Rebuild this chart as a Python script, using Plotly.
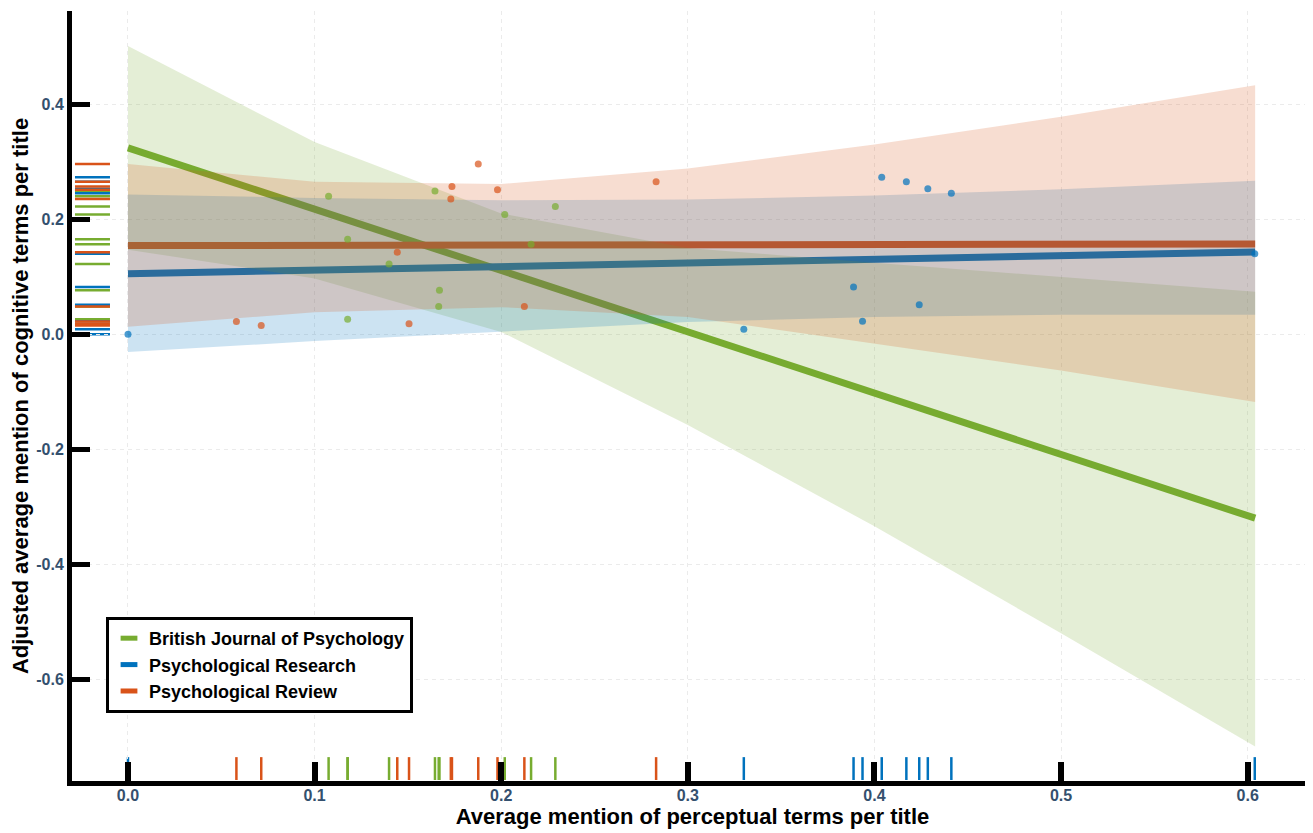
import plotly.graph_objects as go

# ---- data ----
series_names = ["British Journal of Psychology", "Psychological Research", "Psychological Review"]
colors = ["#77AC30", "#0072BD", "#D95319"]
band_rgba = ["rgba(119,172,48,0.2)", "rgba(0,114,189,0.2)", "rgba(217,83,25,0.2)"]

bjp_x = [0.1075, 0.1177, 0.1177, 0.1399, 0.1645, 0.1669, 0.1665, 0.2019, 0.2160, 0.2290]
bjp_y = [0.240, 0.165, 0.026, 0.122, 0.249, 0.0765, 0.048, 0.208, 0.1565, 0.222]

pres_x = [0.0, 0.330, 0.3888, 0.3936, 0.4039, 0.4171, 0.4240, 0.4286, 0.4412, 0.6038]
pres_y = [0.0, 0.0087, 0.082, 0.0226, 0.273, 0.265, 0.051, 0.253, 0.245, 0.140]

prev_x = [0.0581, 0.0714, 0.1443, 0.1506, 0.1736, 0.1730, 0.1877, 0.1980, 0.2124, 0.2830]
prev_y = [0.022, 0.015, 0.1426, 0.018, 0.257, 0.235, 0.296, 0.251, 0.048, 0.265]

fit_x = [0.0, 0.604]
bjp_fit = [0.324, -0.320]
pres_fit = [0.105, 0.143]
prev_fit = [0.154, 0.157]

band_x = [0.0, 0.1, 0.2, 0.3, 0.4, 0.5, 0.604]
bjp_upper = [0.501, 0.334, 0.210, 0.150, 0.124, 0.099, 0.074]
bjp_lower = [0.147, 0.097, 0.004, -0.158, -0.334, -0.520, -0.717]
pres_upper = [0.243, 0.237, 0.233, 0.234, 0.241, 0.252, 0.267]
pres_lower = [-0.031, -0.012, 0.005, 0.021, 0.030, 0.034, 0.034]
prev_upper = [0.296, 0.265, 0.261, 0.288, 0.330, 0.378, 0.433]
prev_lower = [0.013, 0.038, 0.047, 0.030, -0.017, -0.063, -0.118]

x_ticks = [0.0, 0.1, 0.2, 0.3, 0.4, 0.5, 0.6]
y_ticks = [-0.6, -0.4, -0.2, 0.0, 0.2, 0.4]

xs = [bjp_x, pres_x, prev_x]
ys = [bjp_y, pres_y, prev_y]
fits = [bjp_fit, pres_fit, prev_fit]
uppers = [bjp_upper, pres_upper, prev_upper]
lowers = [bjp_lower, pres_lower, prev_lower]

FONT = "Liberation Sans, Arial, sans-serif"
fig = go.Figure()

# fitted lines (under the bands)
for i in range(3):
    fig.add_trace(go.Scatter(x=fit_x, y=fits[i], mode="lines",
                             line=dict(color=colors[i], width=7),
                             showlegend=False, hoverinfo="skip"))
# confidence bands
for i in range(3):
    fig.add_trace(go.Scatter(x=band_x + band_x[::-1], y=uppers[i] + lowers[i][::-1],
                             mode="lines", fill="toself", fillcolor=band_rgba[i],
                             line=dict(width=0), showlegend=False, hoverinfo="skip"))
# points
for i in range(3):
    fig.add_trace(go.Scatter(x=xs[i], y=ys[i], mode="markers",
                             marker=dict(color=colors[i], size=7, opacity=0.7),
                             showlegend=False))
# legend entries
for i in range(3):
    fig.add_trace(go.Scatter(x=[None], y=[None], mode="markers", name=series_names[i],
                             marker=dict(symbol="line-ew", size=12,
                                         line=dict(color=colors[i], width=7))))

# rugs
shapes = []
for i in range(3):
    for v in xs[i]:
        shapes.append(dict(type="line", xref="x", yref="y domain", x0=v, x1=v,
                           y0=0.0013, y1=0.031, line=dict(color=colors[i], width=2.5),
                           layer="below"))
    for v in ys[i]:
        shapes.append(dict(type="line", xref="x domain", yref="y", y0=v, y1=v,
                           x0=0.0024, x1=0.0306, line=dict(color=colors[i], width=2.5),
                           layer="below"))

tickfont = dict(family=FONT, size=16, color="#34506e", weight="bold")
titlefont = dict(family=FONT, size=22, color="black", weight="bold")
fig.update_layout(
    width=1305, height=825,
    margin=dict(l=64, r=0, t=3, b=52, autoexpand=False),
    plot_bgcolor="white", paper_bgcolor="white",
    shapes=shapes,
    showlegend=True,
    legend=dict(x=0.0274, y=0.213, xanchor="left", yanchor="top",
                bordercolor="black", borderwidth=3, bgcolor="white",
                font=dict(family=FONT, size=18, color="black", weight="bold"),
                tracegroupgap=0),
    xaxis=dict(range=[-0.030, 0.635], tickvals=x_ticks,
               ticktext=[f"{t:.1f}" for t in x_ticks],
               ticks="inside", ticklen=19, tickwidth=6, tickcolor="black",
               showline=True, linewidth=5, linecolor="black",
               showgrid=True, gridcolor="#ebebeb", griddash="4px,4px", gridwidth=1,
               zeroline=False, tickfont=tickfont, ticklabelstandoff=-4,
               automargin=False,
               title=dict(text="Average mention of perceptual terms per title",
                          font=titlefont, standoff=5)),
    yaxis=dict(range=[-0.777, 0.562], tickvals=y_ticks,
               ticktext=[f"{t:.1f}" for t in y_ticks],
               ticks="inside", ticklen=18, tickwidth=5, tickcolor="black",
               showline=True, linewidth=5, linecolor="black",
               showgrid=True, gridcolor="#ebebeb", griddash="4px,4px", gridwidth=1,
               zeroline=False, tickfont=tickfont, automargin=False,
               title=dict(text="Adjusted average mention of cognitive terms per title",
                          font=titlefont, standoff=6)),
)

fig.write_html("out.html")
